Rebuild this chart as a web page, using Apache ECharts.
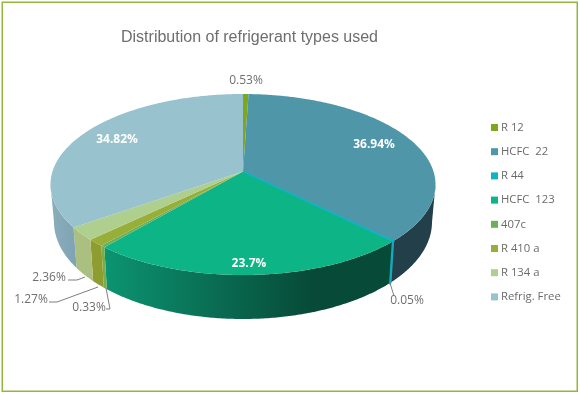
<!DOCTYPE html>
<html><head><meta charset="utf-8">
<script src="https://cdn.jsdelivr.net/npm/echarts@6/dist/echarts.min.js"></script>
<style>html,body{margin:0;padding:0;background:#fff}#c{width:580px;height:394px}</style>
</head><body><div id="c"></div>
<script>
const categories = ['R 12','HCFC  22','R 44','HCFC  123','407c','R 410 a','R 134 a','Refrig. Free'];
const shares = [0.53,36.94,0.05,23.7,0.33,1.27,2.36,34.82];
const labels = ['0.53%','36.94%','0.05%','23.7%','0.33%','1.27%','2.36%','34.82%'];

const topColors = ['#7fa61f','#4f97a8','#0fb3c4','#0db485','#69b05c','#97ae38','#afcf8e','#98c2ce'];
const wallColors = ['#6d8f1b','#233f4a','#17a9ba',
  {type:'linear',x:0,y:0,x2:1,y2:0,colorStops:[{offset:0,color:'#0c9471'},{offset:0.72,color:'#074a38'},{offset:1,color:'#074a38'}]},
  '#77ae4c','#8f9c30','#abbf80',
  {type:'linear',x:0,y:0,x2:1,y2:0,colorStops:[{offset:0,color:'#8aaebc'},{offset:1,color:'#7fa3b3'}]}];
const textSpots = [
  {x:246,y:81,c:'#6f6f6f'},{x:374,y:145,c:'#fff',b:1},{x:407,y:301,c:'#6f6f6f'},{x:249,y:264,c:'#fff',b:1},
  {x:89,y:308,c:'#6f6f6f'},{x:31,y:300,c:'#6f6f6f'},{x:49,y:278,c:'#6f6f6f'},{x:117,y:140,c:'#fff',b:1}];
const leaders = [null,null,[[390,283],[394,296]],null,[[106,288],[110,309],[106,309]],
  [[98,287],[57,302],[49,302]],[[85,277],[77,280],[68,280]],null];

const G = {cx:243, top:{ey:184.5,rx:192.5,ry:90.5}, bot:{ey:222,rx:189,ry:97}, a:-0.144};
const total = shares.reduce((s,v)=>s+v,0);
function rim(theta){
  const u=Math.sin(theta), v=-Math.cos(theta), d=1+G.a*v;
  return {X:u*Math.sqrt(1-G.a*G.a)/d, Y:(v+G.a)/d};
}
const at=(p,e)=>[G.cx+p.X*e.rx, e.ey+p.Y*e.ry];
const apex=at({X:0,Y:G.a},G.top);

function sliceRenderer(idx){
  return function(params,api){
    let before=0; for(let i=0;i<idx;i++) before+=shares[i];
    const value=api.value(0);
    const t0=before/total*2*Math.PI, t1=(before+value)/total*2*Math.PI;
    const n=Math.max(2,Math.ceil((t1-t0)/0.01));
    const face=[apex], wallTop=[];
    for(let i=0;i<=n;i++){
      const p=rim(t0+(t1-t0)*i/n);
      face.push(at(p,G.top));
      if(p.Y>=0) wallTop.push(p);
    }
    const thin=idx===2;
    const children=[];
    if(wallTop.length>1){
      const pts=wallTop.map(p=>at(p,G.top)).concat(wallTop.slice().reverse().map(p=>at(p,G.bot)));
      children.push({type:'polygon',z2:1,shape:{points:pts},style:{fill:wallColors[idx],stroke:thin?wallColors[idx]:null,lineWidth:2}});
    }
    children.push({type:'polygon',z2:2,shape:{points:face},style:{fill:topColors[idx],stroke:thin?topColors[idx]:null,lineWidth:1.5}});
    if(leaders[idx]) children.push({type:'polyline',z2:3,shape:{points:leaders[idx]},style:{stroke:'#7f7f7f',lineWidth:1,fill:null}});
    const s=textSpots[idx];
    children.push({type:'text',z2:4,x:s.x,y:s.y,style:{text:labels[idx],fill:s.c,align:'center',verticalAlign:'middle',
      font:(s.b?'bold ':'')+'12px "Open Sans"'}});
    return {type:'group',children};
  };
}

const chart=echarts.init(document.getElementById('c'),null,{renderer:'canvas'});
chart.setOption({
  animation:false,
  backgroundColor:'#fff',
  title:{text:'Distribution of refrigerant types used',left:116,top:25,itemGap:0,
    textStyle:{fontFamily:'Liberation Sans',fontSize:16,fontWeight:'normal',color:'#6e6e6e'}},
  legend:{orient:'vertical',left:486,top:116,itemWidth:7,itemHeight:7,itemGap:11.2,icon:'rect',selectedMode:false,
    data:categories,
    textStyle:{fontFamily:'Open Sans',fontSize:11.3,color:'#6b6b6b',padding:[0,0,0,-2],lineHeight:13}},
  graphic:[{type:'rect',silent:true,z:-1,shape:{x:2.25,y:2.25,width:575,height:389},style:{fill:'#fff',stroke:'#93b73c',lineWidth:1.5}}],
  series:categories.map((name,i)=>({
    type:'custom',name,coordinateSystem:'none',z:i===2?3:2,
    itemStyle:{color:topColors[i]},
    data:[[shares[i]]],
    encode:{value:0},
    renderItem:sliceRenderer(i)
  }))
});
</script></body></html>
